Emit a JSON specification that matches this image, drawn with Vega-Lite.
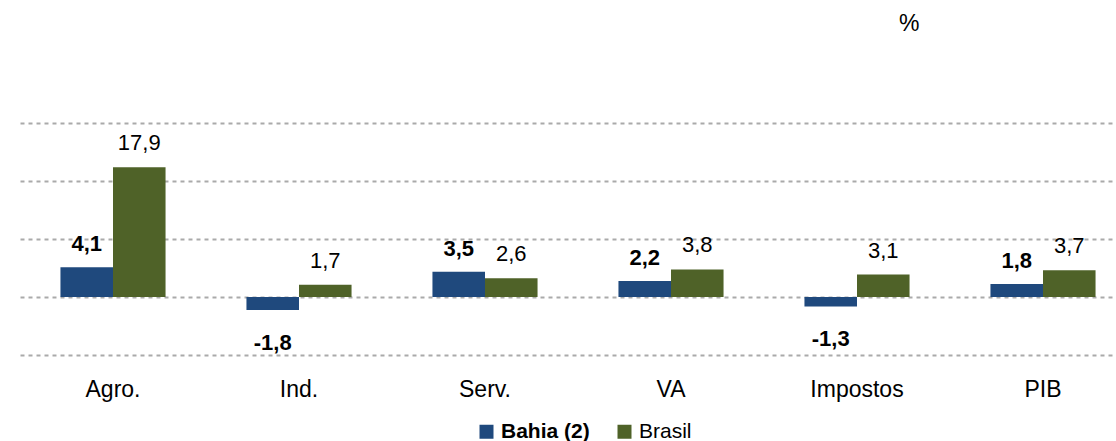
{
  "$schema": "https://vega.github.io/schema/vega-lite/v6.json",
  "autosize": {"type": "none"},
  "width": 1106,
  "height": 232,
  "padding": {"left": 10, "top": 123, "right": 0, "bottom": 86},
  "background": "white",
  "title": {"text": "%", "anchor": "start", "dx": 889, "offset": 87, "fontSize": 23, "fontWeight": "normal", "font": "Liberation Sans", "color": "#000000"},
  "config": {
    "view": {"stroke": null},
    "font": "Liberation Sans",
    "locale": {"number": {"decimal": ",", "thousands": ".", "grouping": [3], "currency": ["R$", ""], "minus": "-"}}
  },
  "data": {
    "values": [
      {"cat": "Agro.", "serie": "Bahia (2)", "value": 4.1},
      {"cat": "Agro.", "serie": "Brasil", "value": 17.9},
      {"cat": "Ind.", "serie": "Bahia (2)", "value": -1.8},
      {"cat": "Ind.", "serie": "Brasil", "value": 1.7},
      {"cat": "Serv.", "serie": "Bahia (2)", "value": 3.5},
      {"cat": "Serv.", "serie": "Brasil", "value": 2.6},
      {"cat": "VA", "serie": "Bahia (2)", "value": 2.2},
      {"cat": "VA", "serie": "Brasil", "value": 3.8},
      {"cat": "Impostos", "serie": "Bahia (2)", "value": -1.3},
      {"cat": "Impostos", "serie": "Brasil", "value": 3.1},
      {"cat": "PIB", "serie": "Bahia (2)", "value": 1.8},
      {"cat": "PIB", "serie": "Brasil", "value": 3.7}
    ]
  },
  "encoding": {
    "x": {
      "field": "cat", "type": "nominal", "sort": null,
      "scale": {"range": [10, 1126], "paddingInner": 0.435, "paddingOuter": 0.2175},
      "axis": {"title": null, "domain": false, "ticks": false, "labelAngle": 0, "labelFontSize": 23, "labelColor": "#000000", "labelPadding": 23, "labelFont": "Liberation Sans"}
    },
    "y": {
      "field": "value", "type": "quantitative",
      "scale": {"domain": [-8, 24], "nice": false, "zero": true},
      "axis": {"title": null, "labels": false, "ticks": false, "domain": false, "values": [-8, 0, 8, 16, 24], "grid": true, "gridColor": "#AAAAAA", "gridWidth": 2, "gridDash": [4, 4]}
    },
    "xOffset": {"field": "serie", "type": "nominal", "scale": {"domain": ["Bahia (2)", "Brasil"]}}
  },
  "layer": [
    {
      "mark": {"type": "bar"},
      "encoding": {
        "color": {
          "field": "serie", "type": "nominal",
          "scale": {"domain": ["Bahia (2)", "Brasil"], "range": ["#1F497D", "#4F6228"]},
          "legend": {
            "title": null, "orient": "none", "direction": "horizontal",
            "legendX": 466, "legendY": 298, "padding": 0,
            "symbolType": "square", "symbolSize": 196, "symbolStrokeWidth": 0,
            "labelFontSize": 21, "labelColor": "#000000", "labelOffset": 4, "columnPadding": 24,
            "labelFont": "Liberation Sans",
            "encode": {"labels": {"update": {"fontWeight": {"signal": "datum.label === 'Bahia (2)' ? 'bold' : 'normal'"}}}}
          }
        }
      }
    },
    {
      "transform": [{"filter": "datum.value >= 0 && datum.serie === 'Bahia (2)'"}],
      "mark": {"type": "text", "baseline": "middle", "dy": -23, "fontSize": 22, "color": "#000000", "fontWeight": "bold"},
      "encoding": {
        "text": {"field": "value", "type": "quantitative", "format": ".1f"}
      }
    },
    {
      "transform": [{"filter": "datum.value >= 0 && datum.serie === 'Brasil'"}],
      "mark": {"type": "text", "baseline": "middle", "dy": -24, "fontSize": 22, "color": "#000000"},
      "encoding": {
        "text": {"field": "value", "type": "quantitative", "format": ".1f"}
      }
    },
    {
      "transform": [{"filter": "datum.value < 0"}],
      "mark": {"type": "text", "baseline": "middle", "dy": 33, "fontSize": 22, "color": "#000000", "fontWeight": "bold"},
      "encoding": {
        "text": {"field": "value", "type": "quantitative", "format": ".1f"}
      }
    }
  ]
}
